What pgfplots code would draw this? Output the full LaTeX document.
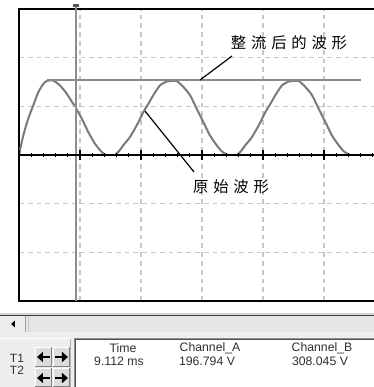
\documentclass[border=0pt]{standalone}
\usepackage{pgfplots}
\pgfplotsset{compat=1.18}
\usepackage{fontspec}
\setmainfont{Liberation Sans}
\newfontfamily\cjk{Noto Sans CJK SC}
\usetikzlibrary{arrows.meta}
\definecolor{trace}{HTML}{7A7A7A}
\definecolor{peakline}{HTML}{8A8A8A}
\definecolor{cursorc}{HTML}{8E8E8E}
\definecolor{gridc}{HTML}{C6C6C6}
\definecolor{win}{HTML}{EEEEEE}
\definecolor{scroll}{HTML}{E6E6E6}
\definecolor{btn}{HTML}{DCDCDC}
\definecolor{txt}{HTML}{303030}
\definecolor{cD4}{HTML}{D4D4D4}
\definecolor{c40}{HTML}{404040}
\definecolor{cA0}{HTML}{A0A0A0}
\definecolor{cC8}{HTML}{C8C8C8}
\definecolor{cB0}{HTML}{B0B0B0}
\definecolor{c90}{HTML}{909090}
\definecolor{c50}{HTML}{505050}
\definecolor{c80}{HTML}{808080}
\definecolor{c55}{HTML}{555555}
\newcommand{\g}{\hspace{3.6pt}}
\begin{document}
\begin{tikzpicture}[x=0.75pt,y=0.75pt]
\fill[white] (0,0) rectangle (374,387);
\begin{scope}
\clip (0,0) rectangle (374,387);
% ---------- bottom panel ----------
\fill[win] (0,0) rectangle (374,55);
\fill[cD4] (0,72) rectangle (374,74);
\fill[c40] (0,71) rectangle (374,72);
\fill[scroll] (0,55) rectangle (374,71);
\fill[win] (0,55) rectangle (25,71);
\draw[cA0, line width=0.75pt] (25.5,55) -- (25.5,71);
\draw[cC8, line width=0.75pt] (28.5,55) -- (28.5,71);
\fill[black] (11,63) -- (15,66.5) -- (15,59.5) -- cycle;
% left panel
\fill[win] (0,0) rectangle (71,49);
\draw[white, line width=0.75pt] (0,48.5) -- (70.5,48.5);
\draw[cB0, line width=0.75pt] (70.5,0) -- (70.5,48.5);
% right box
\fill[white] (74,0) rectangle (374,49);
\draw[c90, line width=0.75pt] (74.5,0) -- (74.5,48.5) -- (374,48.5);
\draw[c50, line width=0.75pt] (75.5,0) -- (75.5,47.5) -- (374,47.5);
% buttons
\foreach \bx/\by/\bh in {35/0/19,53/0/19,35/20/20,53/20/20}{
    \fill[btn] (\bx,\by) rectangle (\bx+17,\by+\bh);
    \draw[white, line width=0.75pt] (\bx+0.5,\by) -- (\bx+0.5,\by+\bh-0.5) -- (\bx+17,\by+\bh-0.5);
    \draw[c80, line width=0.75pt] (\bx,\by+0.5) -- (\bx+16.5,\by+0.5) -- (\bx+16.5,\by+\bh);
}
\foreach \by in {9,30}{
  \draw[black, line width=1.8pt, -{Triangle[length=4.5pt,width=7.5pt]}] (50,\by) -- (37,\by);
  \draw[black, line width=1.8pt, -{Triangle[length=4.5pt,width=7.5pt]}] (55,\by) -- (68,\by);
}
\node[txt, font=\fontsize{9}{10}\selectfont] at (17,29) {T1};
\node[txt, font=\fontsize{9}{10}\selectfont] at (17,17) {T2};
\node[txt, font=\fontsize{9.2}{10}\selectfont] at (123,39) {Time};
\node[txt, font=\fontsize{9.2}{10}\selectfont] at (119,26) {9.112 ms};
\node[txt, font=\fontsize{9.2}{10}\selectfont] at (210,39) {Channel\_A};
\node[txt, font=\fontsize{9.2}{10}\selectfont] at (207,26) {196.794 V};
\node[txt, font=\fontsize{9.2}{10}\selectfont] at (322,39) {Channel\_B};
\node[txt, font=\fontsize{9.2}{10}\selectfont] at (320,26) {308.045 V};
% ---------- scope frame and grid ----------
\begin{axis}[at={(14.25pt,64.5pt)}, anchor=south west, scale only axis,
  width=267.75pt, height=219pt,
  xmin=0, xmax=5.852, ymin=-3, ymax=3,
  xtick={1,2,3,4,5}, ytick={-2,-1,1,2},
  xticklabels={}, yticklabels={},
  major tick length=0pt, tick style={draw=none},
  grid=major,
  major grid style={gridc, line width=0.8pt, dash pattern=on 3.6pt off 3pt},
  axis line style={black, line width=1.7pt}]
\end{axis}
% ---------- zero line, ticks and traces ----------
\begin{axis}[at={(14.25pt,64.5pt)}, anchor=south west, scale only axis,
  width=267.75pt, height=219pt,
  xmin=0, xmax=5.852, ymin=-3, ymax=3,
  axis x line=middle, axis y line=none,
  x axis line style={-, black, line width=1.1pt},
  xtick={0,1,2,3,4,5},
  minor xtick={0.2,0.4,0.6,0.8,1.2,1.4,1.6,1.8,2.2,2.4,2.6,2.8,3.2,3.4,3.6,3.8,4.2,4.4,4.6,4.8,5.2,5.4,5.6,5.8},
  xticklabels={}, ytick=\empty,
  major tick length=7.5pt, minor tick length=3.6pt, tick align=center,
  tick style={black, line width=0.9pt},
  axis on top, clip=false]
% rectified waveform (Channel A), divisions
\addplot[trace, line width=1.5pt, smooth, tension=0.4] coordinates {
(0,0) (0.070,0.40) (0.152,0.75) (0.234,1.02) (0.316,1.29) (0.398,1.46) (0.440,1.51)
(0.480,1.53) (0.562,1.53) (0.672,1.43) (0.782,1.26) (0.890,1.05) (0.934,1.00)};
\addplot[trace, line width=1.5pt, smooth, tension=0.4] coordinates {
(0.934,0.96) (1.028,0.75) (1.136,0.47) (1.246,0.23) (1.356,0.06) (1.421,0)};
\addplot[trace, line width=1.5pt] coordinates {(1.421,0) (1.574,0)};
\addplot[trace, line width=1.5pt, smooth, tension=0.4] coordinates {
(1.574,0) (1.640,0.08) (1.710,0.20) (1.820,0.37) (1.930,0.61) (2.038,0.88) (2.120,1.05)
(2.202,1.23) (2.311,1.43) (2.421,1.51) (2.475,1.52) (2.585,1.52) (2.693,1.40) (2.803,1.23)
(2.913,0.95) (3.021,0.68) (3.131,0.40) (3.241,0.20) (3.320,0.08) (3.377,0.03) (3.431,0)};
\addplot[trace, line width=1.5pt] coordinates {(3.431,0) (3.574,0)};
\addplot[trace, line width=1.5pt, smooth, tension=0.4] coordinates {
(3.574,0) (3.640,0.08) (3.710,0.20) (3.820,0.37) (3.930,0.61) (4.038,0.88) (4.120,1.05)
(4.202,1.23) (4.311,1.43) (4.421,1.51) (4.475,1.52) (4.585,1.52) (4.693,1.40) (4.803,1.23)
(4.913,0.95) (5.021,0.68) (5.131,0.40) (5.241,0.20) (5.320,0.08) (5.377,0.03) (5.431,0)};
\addplot[trace, line width=1.5pt] coordinates {(5.431,0) (5.852,0)};
% peak level line (Channel B)
\addplot[peakline, line width=1pt] coordinates {(0.455,1.54) (5.60,1.54)};
% cursor
\addplot[cursorc, line width=1pt] coordinates {(0.934,-3) (0.934,3.08)};
\end{axis}
\fill[c55] (73,380) rectangle (79,383);
% ---------- annotations ----------
\draw[black, line width=0.9pt] (200,307) -- (232,331);
\draw[black, line width=0.9pt] (145,276) -- (194,215);
\node[black, font=\cjk\fontsize{11.5}{12}\selectfont] at (289,344.5) {整\g 流\g 后\g 的\g 波\g 形};
\node[black, font=\cjk\fontsize{11.5}{12}\selectfont] at (231,200) {原\g 始\g 波\g 形};
\end{scope}
\pgfresetboundingbox
\path[use as bounding box] (0,0) rectangle (374,387);
\end{tikzpicture}
\end{document}
